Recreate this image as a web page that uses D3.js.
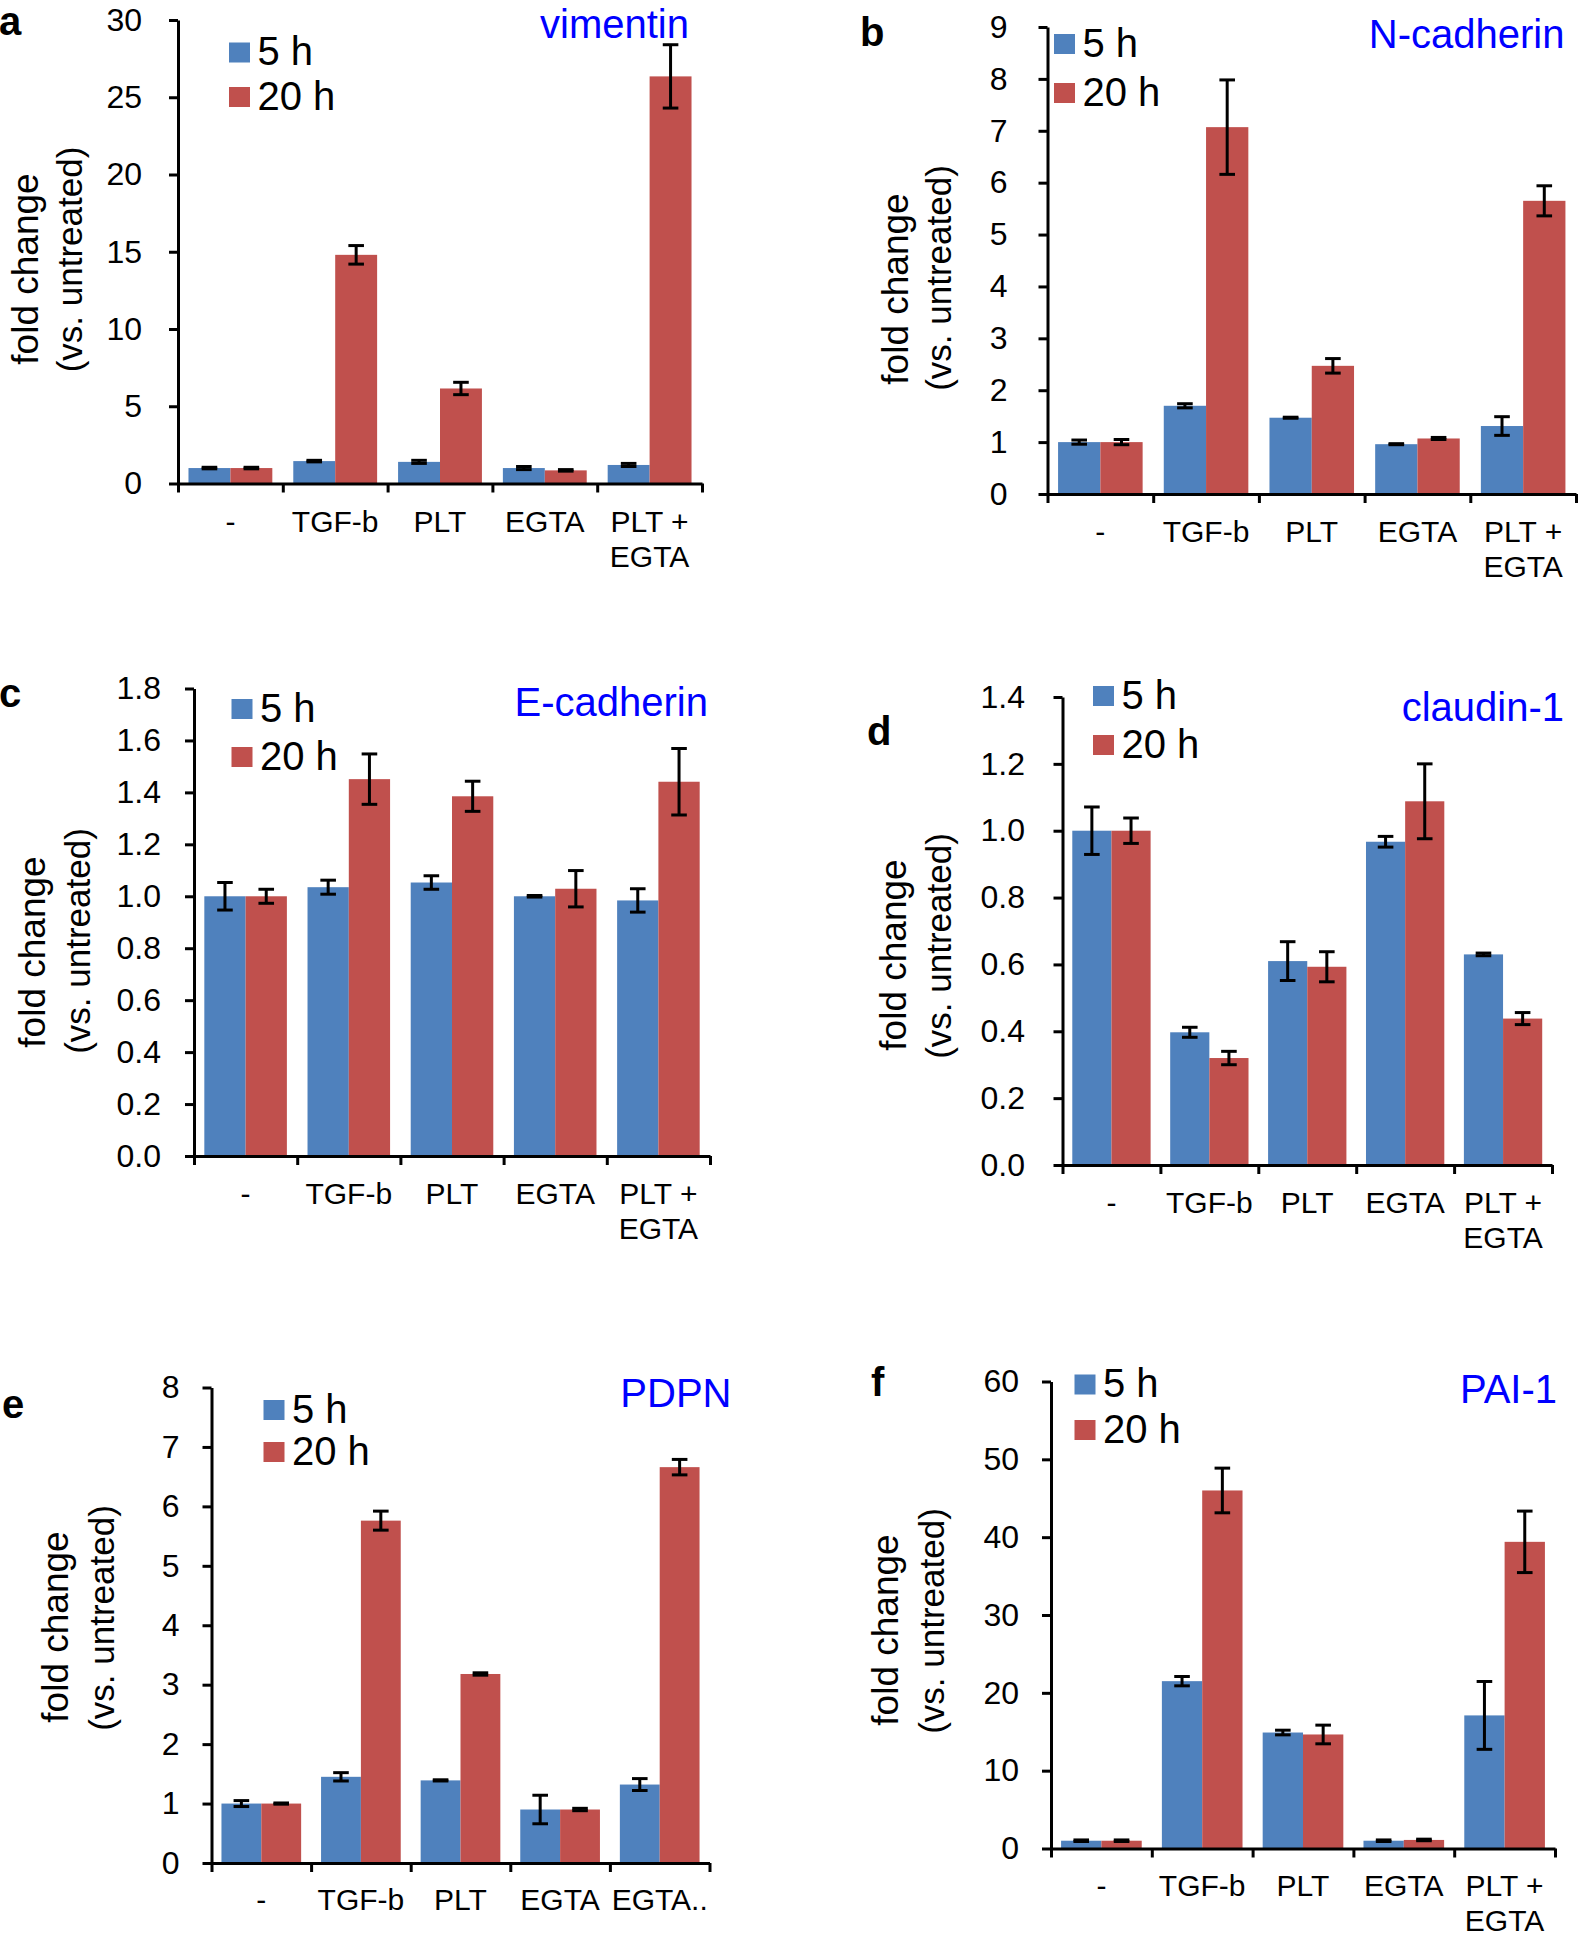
<!DOCTYPE html>
<html><head><meta charset="utf-8">
<script src="https://cdn.jsdelivr.net/npm/d3@7"></script>
<style>
body{margin:0;background:#fff}
svg{display:block}
text{font-family:"Liberation Sans",Arial,Helvetica,sans-serif;fill:#000}
</style>
</head><body>
<svg id="chart" width="1594" height="1937"></svg>
<script>
// ---------- data ----------
const series = ["5 h", "20 h"];
const categories = ["-", "TGF-b", "PLT", "EGTA", "PLT +\nEGTA"];
const categoriesE = ["-", "TGF-b", "PLT", "EGTA", "EGTA.."];

const vimentin5h = [1.0, 1.45, 1.4, 1.0, 1.2];
const vimentin5hErr = [0.05, 0.05, 0.1, 0.1, 0.1];
const vimentin20h = [1.0, 14.8, 6.15, 0.85, 26.35];
const vimentin20hErr = [0.05, 0.6, 0.4, 0.05, 2.05];
const vimentinTicks = [0, 5, 10, 15, 20, 25, 30];

const ncad5h = [1.0, 1.7, 1.47, 0.96, 1.31];
const ncad5hErr = [0.04, 0.04, 0.01, 0.01, 0.18];
const ncad20h = [1.0, 7.07, 2.47, 1.07, 5.65];
const ncad20hErr = [0.05, 0.91, 0.14, 0.02, 0.29];
const ncadTicks = [0, 1, 2, 3, 4, 5, 6, 7, 8, 9];

const ecad5h = [1.0, 1.035, 1.053, 1.0, 0.984];
const ecad5hErr = [0.053, 0.027, 0.026, 0.003, 0.045];
const ecad20h = [1.0, 1.451, 1.385, 1.029, 1.441];
const ecad20hErr = [0.027, 0.097, 0.058, 0.07, 0.128];
const ecadTicks = [0, 0.2, 0.4, 0.6, 0.8, 1.0, 1.2, 1.4, 1.6, 1.8];

const cldn5h = [1.0, 0.397, 0.61, 0.967, 0.63];
const cldn5hErr = [0.071, 0.015, 0.058, 0.016, 0.004];
const cldn20h = [1.0, 0.32, 0.593, 1.088, 0.438];
const cldn20hErr = [0.038, 0.02, 0.045, 0.112, 0.018];
const cldnTicks = [0, 0.2, 0.4, 0.6, 0.8, 1.0, 1.2, 1.4];

const pdpn5h = [1.0, 1.45, 1.39, 0.9, 1.32];
const pdpn5hErr = [0.05, 0.07, 0.01, 0.24, 0.1];
const pdpn20h = [1.0, 5.76, 3.18, 0.9, 6.66];
const pdpn20hErr = [0.01, 0.16, 0.02, 0.02, 0.13];
const pdpnTicks = [0, 1, 2, 3, 4, 5, 6, 7, 8];

const pai5h = [1.0, 21.5, 14.9, 1.0, 17.1];
const pai5hErr = [0.1, 0.6, 0.3, 0.1, 4.36];
const pai20h = [1.0, 46.0, 14.65, 1.1, 39.4];
const pai20hErr = [0.1, 2.87, 1.2, 0.1, 3.95];
const paiTicks = [0, 10, 20, 30, 40, 50, 60];

const colors = {"5 h": "#4f81bd", "20 h": "#c0504d"};

// ---------- panel settings (layout) ----------
const panels = [
  {letter:"a", title:"vimentin", cats:categories, v5:vimentin5h, e5:vimentin5hErr, v20:vimentin20h, e20:vimentin20hErr, ticks:vimentinTicks, fmt:d3.format("d"),
   ax:178, xEnd:702, yTop:20, yBot:483.5, pad:27, lx:229, ly:42.5, lg:44.5, tx:689, ty:37.7, Lx:-1, Ly:35,
   fx:28, vx:72, fy:269, vy:259.5, cl:48},
  {letter:"b", title:"N-cadherin", cats:categories, v5:ncad5h, e5:ncad5hErr, v20:ncad20h, e20:ncad20hErr, ticks:ncadTicks, fmt:d3.format("d"),
   ax:1047.5, xEnd:1576, yTop:27, yBot:494, pad:31, lx:1054, ly:34, lg:49, tx:1564.5, ty:48, Lx:860, Ly:46,
   fx:898, vx:941, fy:289, vy:278, cl:48},
  {letter:"c", title:"E-cadherin", cats:categories, v5:ecad5h, e5:ecad5hErr, v20:ecad20h, e20:ecad20hErr, ticks:ecadTicks, fmt:d3.format(".1f"),
   ax:194, xEnd:710, yTop:688.5, yBot:1156, pad:24, lx:231.5, ly:699, lg:48, tx:708, ty:716, Lx:-1, Ly:707,
   fx:35, vx:80, fy:952, vy:941, cl:48},
  {letter:"d", title:"claudin-1", cats:categories, v5:cldn5h, e5:cldn5hErr, v20:cldn20h, e20:cldn20hErr, ticks:cldnTicks, fmt:d3.format(".1f"),
   ax:1062.5, xEnd:1552, yTop:697, yBot:1165, pad:28.5, lx:1093, ly:686, lg:49, tx:1564, ty:720.5, Lx:867, Ly:745,
   fx:896, vx:941, fy:955, vy:946, cl:48},
  {letter:"e", title:"PDPN", cats:categoriesE, v5:pdpn5h, e5:pdpn5hErr, v20:pdpn20h, e20:pdpn20hErr, ticks:pdpnTicks, fmt:d3.format("d"),
   ax:211.5, xEnd:709.5, yTop:1387.5, yBot:1863, pad:23, lx:263.5, ly:1400, lg:42, tx:731.5, ty:1407, Lx:2, Ly:1418,
   fx:58, vx:104, fy:1627, vy:1618, cl:47},
  {letter:"f", title:"PAI-1", cats:categories, v5:pai5h, e5:pai5hErr, v20:pai20h, e20:pai20hErr, ticks:paiTicks, fmt:d3.format("d"),
   ax:1051, xEnd:1555, yTop:1381.5, yBot:1848.5, pad:23, lx:1074.5, ly:1374.5, lg:45.5, tx:1557, ty:1403, Lx:871, Ly:1396,
   fx:888, vx:934, fy:1630, vy:1621, cl:47}
];

const svg = d3.select("#chart");

function drawPanel(p) {
  const g = svg.append("g");
  const x0 = d3.scaleBand().domain(p.cats).range([p.ax, p.xEnd]).paddingInner(0.2).paddingOuter(0.1);
  const x1 = d3.scaleBand().domain(series).range([0, x0.bandwidth()]);
  const y = d3.scaleLinear().domain([0, d3.max(p.ticks)]).range([p.yBot, p.yTop]);

  const data = p.cats.flatMap((c, i) => [
    {c, s: "5 h", v: p.v5[i], e: p.e5[i]},
    {c, s: "20 h", v: p.v20[i], e: p.e20[i]}
  ]);

  // bars
  g.selectAll("rect.bar").data(data).join("rect").attr("class", "bar")
    .attr("x", d => x0(d.c) + x1(d.s))
    .attr("width", x1.bandwidth())
    .attr("y", d => y(d.v))
    .attr("height", d => y(0) - y(d.v))
    .attr("fill", d => colors[d.s]);

  // error bars
  const cap = 7.8;
  const cx = d => x0(d.c) + x1(d.s) + x1.bandwidth() / 2;
  const eg = g.selectAll("g.err").data(data).join("g").attr("class", "err")
    .attr("stroke", "#000").attr("stroke-width", 3);
  eg.append("line")
    .attr("x1", cx).attr("x2", cx)
    .attr("y1", d => y(d.v + d.e)).attr("y2", d => y(d.v - d.e));
  [1, -1].forEach(sg => {
    eg.append("line")
      .attr("x1", d => cx(d) - cap).attr("x2", d => cx(d) + cap)
      .attr("y1", d => y(d.v + sg * d.e)).attr("y2", d => y(d.v + sg * d.e));
  });

  // y axis
  const ya = g.append("g").attr("transform", `translate(${p.ax},0)`)
    .call(d3.axisLeft(y).tickValues(p.ticks).tickFormat(p.fmt).tickSize(9).tickSizeOuter(0).tickPadding(p.pad));
  ya.selectAll("path,line").attr("stroke", "#000").attr("stroke-width", 3);
  ya.selectAll("text").attr("font-size", 32).attr("font-family", "Liberation Sans, Arial, sans-serif").attr("fill", "#000");

  // x axis with category boundary ticks
  const xb = d3.scaleLinear().domain([0, p.cats.length]).range([p.ax, p.xEnd]);
  const xa = g.append("g").attr("transform", `translate(0,${p.yBot})`)
    .call(d3.axisBottom(xb).tickValues(d3.range(p.cats.length + 1)).tickFormat("").tickSize(9).tickSizeOuter(0));
  xa.selectAll("path,line").attr("stroke", "#000").attr("stroke-width", 3);

  // category labels
  p.cats.forEach(c => {
    const lines = c.split("\n");
    const t = g.append("text").attr("text-anchor", "middle").attr("font-size", 30)
      .attr("x", x0(c) + x0.bandwidth() / 2).attr("y", p.yBot + p.cl);
    lines.forEach((ln, k) => {
      t.append("tspan").attr("x", x0(c) + x0.bandwidth() / 2).attr("dy", k === 0 ? 0 : 35).text(ln);
    });
  });

  // legend
  series.forEach((s, k) => {
    g.append("rect").attr("x", p.lx).attr("y", p.ly + k * p.lg).attr("width", 21).attr("height", 20).attr("fill", colors[s]);
    g.append("text").attr("x", p.lx + 28.5).attr("y", p.ly + k * p.lg + 22.5).attr("font-size", 40).text(s);
  });

  // title
  g.append("text").attr("x", p.tx).attr("y", p.ty).attr("text-anchor", "end")
    .attr("font-size", 40).style("fill", "#0000ff").text(p.title);

  // panel letter
  g.append("text").attr("x", p.Lx).attr("y", p.Ly).attr("font-size", 40).attr("font-weight", "bold").text(p.letter);

  // y-axis labels
  g.append("text").attr("transform", `translate(${p.fx},${p.fy}) rotate(-90)`).attr("text-anchor", "middle")
    .attr("dy", "0.28em").attr("font-size", 37).text("fold change");
  g.append("text").attr("transform", `translate(${p.vx},${p.vy}) rotate(-90)`).attr("text-anchor", "middle")
    .attr("dy", "0.28em").attr("font-size", 35).text("(vs. untreated)");
}

panels.forEach(drawPanel);
</script>
</body></html>
